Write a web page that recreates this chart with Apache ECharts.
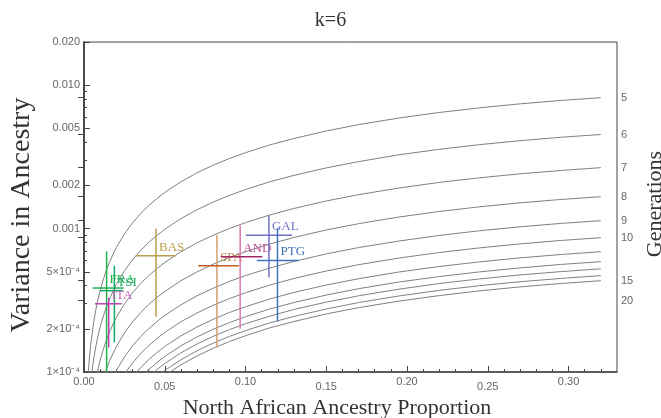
<!DOCTYPE html>
<html><head><meta charset="utf-8">
<script src="https://cdn.jsdelivr.net/npm/echarts@6/dist/echarts.min.js"></script>
<style>html,body{margin:0;padding:0;background:#fff}#c{width:661px;height:418px}</style>
</head><body><div id="c"></div>
<script>
// ---- data ----
const generations = [5, 6, 7, 8, 9, 10, 11, 12, 13, 14, 15];
const xSamples = [0.002, 0.003, 0.004, 0.006, 0.008, 0.010, 0.013, 0.016, 0.020, 0.025, 0.030, 0.035, 0.040, 0.045, 0.050, 0.060, 0.070, 0.080, 0.090, 0.100, 0.115, 0.130, 0.150, 0.170, 0.195, 0.220, 0.245, 0.270, 0.295, 0.320];
const curveG5  = [7.50e-5, 1.125e-4, 1.498e-4, 2.24e-4, 2.98e-4, 3.72e-4, 4.82e-4, 5.92e-4, 7.37e-4, 9.17e-4, 1.094e-3, 1.270e-3, 1.444e-3, 1.616e-3, 1.786e-3, 2.12e-3, 2.45e-3, 2.77e-3, 3.08e-3, 3.38e-3, 3.83e-3, 4.25e-3, 4.79e-3, 5.31e-3, 5.90e-3, 6.45e-3, 6.95e-3, 7.41e-3, 7.82e-3, 8.18e-3];
const curveG6  = [null, null, 8.29e-5, 1.24e-4, 1.65e-4, 2.06e-4, 2.67e-4, 3.27e-4, 4.08e-4, 5.07e-4, 6.05e-4, 7.03e-4, 7.99e-4, 8.94e-4, 9.88e-4, 1.173e-3, 1.354e-3, 1.531e-3, 1.704e-3, 1.872e-3, 2.12e-3, 2.35e-3, 2.65e-3, 2.93e-3, 3.27e-3, 3.57e-3, 3.85e-3, 4.10e-3, 4.33e-3, 4.53e-3];
const curveG7  = [null, null, null, 7.29e-5, 9.70e-5, 1.210e-4, 1.568e-4, 1.924e-4, 2.40e-4, 2.98e-4, 3.56e-4, 4.13e-4, 4.69e-4, 5.25e-4, 5.80e-4, 6.89e-4, 7.96e-4, 8.99e-4, 1.001e-3, 1.100e-3, 1.244e-3, 1.382e-3, 1.558e-3, 1.724e-3, 1.918e-3, 2.10e-3, 2.26e-3, 2.41e-3, 2.54e-3, 2.66e-3];
const curveG8  = [null, null, null, null, null, 7.59e-5, 9.84e-5, 1.208e-4, 1.503e-4, 1.870e-4, 2.23e-4, 2.59e-4, 2.95e-4, 3.30e-4, 3.64e-4, 4.33e-4, 4.99e-4, 5.65e-4, 6.28e-4, 6.90e-4, 7.81e-4, 8.67e-4, 9.78e-4, 1.082e-3, 1.204e-3, 1.316e-3, 1.419e-3, 1.512e-3, 1.595e-3, 1.669e-3];
const curveG9  = [null, null, null, null, null, null, 6.70e-5, 8.22e-5, 1.023e-4, 1.272e-4, 1.519e-4, 1.763e-4, 2.00e-4, 2.24e-4, 2.48e-4, 2.94e-4, 3.40e-4, 3.84e-4, 4.28e-4, 4.70e-4, 5.31e-4, 5.90e-4, 6.66e-4, 7.37e-4, 8.19e-4, 8.96e-4, 9.66e-4, 1.029e-3, 1.086e-3, 1.136e-3];
const curveG10 = [null, null, null, null, null, null, null, 6.25e-5, 7.78e-5, 9.68e-5, 1.155e-4, 1.341e-4, 1.524e-4, 1.706e-4, 1.886e-4, 2.24e-4, 2.58e-4, 2.92e-4, 3.25e-4, 3.57e-4, 4.04e-4, 4.49e-4, 5.06e-4, 5.60e-4, 6.23e-4, 6.81e-4, 7.34e-4, 7.82e-4, 8.26e-4, 8.64e-4];
const curveG11 = [null, null, null, null, null, null, null, null, null, 7.73e-5, 9.22e-5, 1.071e-4, 1.217e-4, 1.362e-4, 1.506e-4, 1.788e-4, 2.06e-4, 2.33e-4, 2.60e-4, 2.85e-4, 3.23e-4, 3.59e-4, 4.04e-4, 4.47e-4, 4.98e-4, 5.44e-4, 5.86e-4, 6.25e-4, 6.59e-4, 6.90e-4];
const curveG12 = [null, null, null, null, null, null, null, null, null, 6.58e-5, 7.86e-5, 9.12e-5, 1.037e-4, 1.160e-4, 1.283e-4, 1.523e-4, 1.758e-4, 1.987e-4, 2.21e-4, 2.43e-4, 2.75e-4, 3.05e-4, 3.44e-4, 3.81e-4, 4.24e-4, 4.63e-4, 4.99e-4, 5.32e-4, 5.62e-4, 5.88e-4];
const curveG13 = [null, null, null, null, null, null, null, null, null, null, 7.01e-5, 8.14e-5, 9.25e-5, 1.036e-4, 1.145e-4, 1.359e-4, 1.569e-4, 1.774e-4, 1.974e-4, 2.17e-4, 2.45e-4, 2.73e-4, 3.07e-4, 3.40e-4, 3.78e-4, 4.14e-4, 4.46e-4, 4.75e-4, 5.01e-4, 5.24e-4];
const curveG14 = [null, null, null, null, null, null, null, null, null, null, 6.29e-5, 7.30e-5, 8.29e-5, 9.28e-5, 1.026e-4, 1.218e-4, 1.406e-4, 1.590e-4, 1.769e-4, 1.944e-4, 2.20e-4, 2.44e-4, 2.75e-4, 3.05e-4, 3.39e-4, 3.71e-4, 4.00e-4, 4.26e-4, 4.49e-4, 4.70e-4];
const curveG15 = [null, null, null, null, null, null, null, null, null, null, null, 6.72e-5, 7.64e-5, 8.55e-5, 9.45e-5, 1.122e-4, 1.295e-4, 1.465e-4, 1.630e-4, 1.791e-4, 2.03e-4, 2.25e-4, 2.54e-4, 2.81e-4, 3.12e-4, 3.41e-4, 3.68e-4, 3.92e-4, 4.14e-4, 4.33e-4];
const curves = [curveG5, curveG6, curveG7, curveG8, curveG9, curveG10, curveG11, curveG12, curveG13, curveG14, curveG15];

const pops   = ['FRA', 'TSI', 'ITA', 'BAS', 'SPA', 'AND', 'GAL', 'PTG'];
const popX   = [0.0140, 0.0188, 0.0153, 0.0446, 0.0823, 0.0967, 0.1145, 0.1198];
const popXLo = [0.0053, 0.0099, 0.0068, 0.0320, 0.0707, 0.0847, 0.1002, 0.1070];
const popXHi = [0.0244, 0.0242, 0.0234, 0.0570, 0.0959, 0.1104, 0.1288, 0.1331];
const popY   = [3.85e-4, 3.69e-4, 2.99e-4, 6.47e-4, 5.51e-4, 6.37e-4, 8.97e-4, 6.00e-4];
const popYLo = [1.00e-4, 1.61e-4, 1.48e-4, 2.43e-4, 1.48e-4, 2.00e-4, 4.57e-4, 2.25e-4];
const popYHi = [6.93e-4, 5.51e-4, 3.30e-4, 9.98e-4, 9.07e-4, 1.05e-3, 1.23e-3, 1.01e-3];
const popVColor = ['#22b24c', '#18a866', '#c040b0', '#b8a048', '#d4a070', '#d878b0', '#7070c8', '#4070c0'];
const popHColor = ['#22b24c', '#18a866', '#c040b0', '#b8a048', '#c06020', '#a02860', '#7070c8', '#4070c0'];
const popLColor = ['#22b24c', '#18a866', '#d060c0', '#b8a048', '#c08050', '#c05090', '#7070c8', '#4070c0'];

const xTickValues = [0, 0.05, 0.10, 0.15, 0.20, 0.25, 0.30];
const xTickLabels = ['0.00', '0.05', '0.10', '0.15', '0.20', '0.25', '0.30'];
const xMinorValues = [0.01,0.02,0.03,0.04,0.06,0.07,0.08,0.09,0.11,0.12,0.13,0.14,0.16,0.17,0.18,0.19,0.21,0.22,0.23,0.24,0.26,0.27,0.28,0.29,0.31,0.32];
const yTickValues = [1e-4, 2e-4, 5e-4, 1e-3, 2e-3, 5e-3, 1e-2, 2e-2];
const yTickLabels = ['1×10⁻⁴', '2×10⁻⁴', '5×10⁻⁴', '0.001', '0.002', '0.005', '0.010', '0.020'];
const yMinorValues = [3e-4, 4e-4, 6e-4, 7e-4, 8e-4, 9e-4, 3e-3, 4e-3, 6e-3, 7e-3, 8e-3, 9e-3];
const genTickValues = [8.18e-3, 4.53e-3, 2.66e-3, 1.669e-3, 1.136e-3, 8.64e-4, 4.33e-4, 3.14e-4];
const genTickLabels = ['5', '6', '7', '8', '9', '10', '15', '20'];

// ---- chart ----
function nearestLabel(vals, labels, v) {
  let best = 0, bd = Infinity;
  vals.forEach((t, i) => { const d = Math.abs(Math.log(t) - Math.log(v)); if (d < bd) { bd = d; best = i; } });
  return labels[best];
}
const axisCol = '#444';
const labCol = '#666';
const tickFont = 'Liberation Sans';
const serif = 'Liberation Serif';

const curveSeries = curves.map((arr, i) => ({
  type: 'line', name: 'g' + generations[i], xAxisIndex: 0, yAxisIndex: 0,
  data: xSamples.map((x, j) => [x, arr[j]]).filter(p => p[1] != null),
  showSymbol: false, smooth: false, clip: true,
  lineStyle: { color: '#808080', width: 1 }, silent: true, z: 2
}));

const crossSeries = {
  type: 'custom', xAxisIndex: 0, yAxisIndex: 0, clip: true, z: 5,
  data: pops.map((n, i) => [popX[i], popY[i], popXLo[i], popXHi[i], popYLo[i], popYHi[i], i]),
  renderItem(params, api) {
    const i = api.value(6);
    const c = api.coord([api.value(0), api.value(1)]);
    const l = api.coord([api.value(2), api.value(1)]);
    const r = api.coord([api.value(3), api.value(1)]);
    const b = api.coord([api.value(0), api.value(4)]);
    const t = api.coord([api.value(0), api.value(5)]);
    return { type: 'group', children: [
      { type: 'line', shape: { x1: b[0], y1: b[1], x2: t[0], y2: t[1] }, style: { stroke: popVColor[i], lineWidth: 1.5 } },
      { type: 'line', shape: { x1: l[0], y1: l[1], x2: r[0], y2: r[1] }, style: { stroke: popHColor[i], lineWidth: 1.5 } },
      { type: 'text', x: c[0] + 3, y: c[1] - 2, style: { text: pops[i], fill: popLColor[i], font: '13px "Liberation Serif"', align: 'left', verticalAlign: 'bottom' } }
    ] };
  }
};

const chart = echarts.init(document.getElementById('c'), null, { renderer: 'canvas' });
chart.setOption({
  animation: false,
  backgroundColor: '#fff',
  title: { text: 'k=6', left: 'center', top: 6, textStyle: { fontFamily: serif, fontSize: 20, fontWeight: 'normal', color: '#333' } },
  grid: { left: 84, right: 44, top: 42, bottom: 46, outerBoundsMode: 'none', containLabel: false, show: true, borderColor: axisCol, borderWidth: 1, backgroundColor: 'transparent' },
  xAxis: [
    { type: 'value', min: 0, max: 0.33, position: 'bottom',
      name: 'North African Ancestry Proportion', nameLocation: 'middle', nameGap: 20,
      nameTextStyle: { fontFamily: serif, fontSize: 22, color: '#333', padding: [0, 27, 0, 0] },
      axisLine: { show: true, lineStyle: { color: axisCol, width: 1.5 } },
      axisTick: { show: true, inside: true, length: 6, customValues: xTickValues, lineStyle: { color: axisCol } },
      axisLabel: { show: true, customValues: xTickValues, margin: 4, color: labCol, fontFamily: tickFont, fontSize: 11,
        formatter: (v) => { const s = nearestLabel(xTickValues.map(t => t + 1), xTickLabels, v + 1); const k = xTickLabels.indexOf(s); return (k % 2 === 1) ? '{b|' + s + '}' : '{a|' + s + '}'; },
        rich: { a: { color: labCol, fontFamily: tickFont, fontSize: 11 }, b: { color: labCol, fontFamily: tickFont, fontSize: 11, padding: [5, 0, 0, 0] } } },
      splitLine: { show: false } },
    { type: 'value', min: 0, max: 0.33, position: 'bottom',
      axisLine: { show: false }, axisLabel: { show: false }, splitLine: { show: false },
      axisTick: { show: true, inside: true, length: 3, customValues: xMinorValues, lineStyle: { color: axisCol } } }
  ],
  yAxis: [
    { type: 'log', logBase: 10, min: 1e-4, max: 0.02, position: 'left',
      name: 'Variance in Ancestry', nameLocation: 'middle', nameGap: 45, nameRotate: 90,
      nameTextStyle: { fontFamily: serif, fontSize: 28, color: '#333', padding: [0, 16, 0, 0] },
      axisLine: { show: true, lineStyle: { color: axisCol, width: 1.5 } },
      axisTick: { show: true, inside: true, length: 6, customValues: yTickValues, lineStyle: { color: axisCol } },
      axisLabel: { show: true, customValues: yTickValues, margin: 4, color: labCol, fontFamily: tickFont, fontSize: 11,
        formatter: (v) => nearestLabel(yTickValues, yTickLabels, v) },
      splitLine: { show: false } },
    { type: 'log', logBase: 10, min: 1e-4, max: 0.02, position: 'right',
      name: 'Generations', nameLocation: 'middle', nameGap: 17, nameRotate: 90,
      nameTextStyle: { fontFamily: serif, fontSize: 22, color: '#333', padding: [0, 0, 0, 6] },
      axisLine: { show: true, lineStyle: { color: axisCol, width: 1.5 } },
      axisTick: { show: true, inside: true, length: 6, customValues: genTickValues, lineStyle: { color: axisCol } },
      axisLabel: { show: true, customValues: genTickValues, margin: 4, color: labCol, fontFamily: tickFont, fontSize: 11,
        formatter: (v) => nearestLabel(genTickValues, genTickLabels, v) },
      splitLine: { show: false } },
    { type: 'log', logBase: 10, min: 1e-4, max: 0.02, position: 'left', offset: 0,
      axisLine: { show: false }, axisLabel: { show: false }, splitLine: { show: false },
      axisTick: { show: true, inside: true, length: 3, customValues: yMinorValues, lineStyle: { color: axisCol } } }
  ],
  series: [...curveSeries, crossSeries]
});
</script>
</body></html>
